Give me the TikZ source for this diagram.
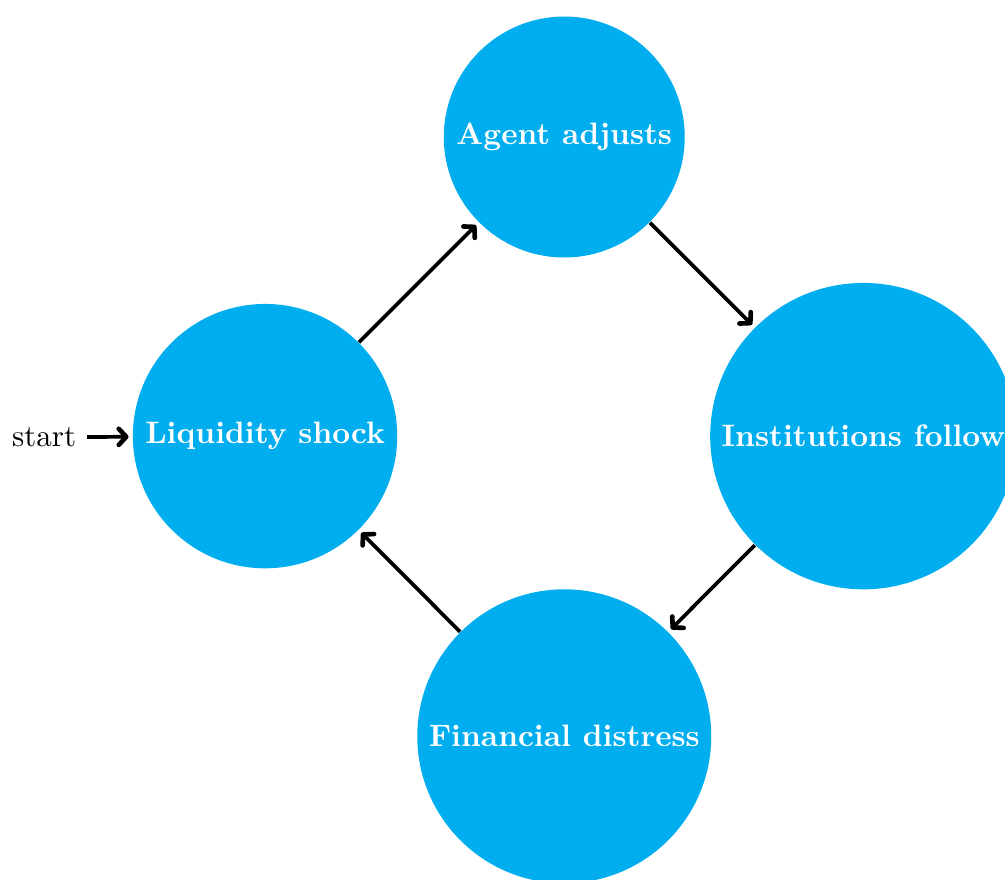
\documentclass[tikz,border=0pt]{standalone}
\usetikzlibrary{arrows.meta}
\definecolor{statecyan}{RGB}{0,173,239}
\tikzset{%
  state/.style={
    circle,
    fill=statecyan,
    text=white,
    font=\bfseries,
    inner sep=0.3333em
  },
  transition/.style={
    -{Straight Barb[length=2.4pt,width=5.2pt,line width=1.5pt,round]},
    line width=1.2pt,
    shorten >=1.2pt
  },
}

\begin{document}
\begin{tikzpicture}
\useasboundingbox (0,0) rectangle (11.39,-9.97);
\node[state] (liquidity) at (3.004,-4.943) {Liquidity shock};
\node[state] (agent) at (6.395,-1.553) {Agent adjusts};
\node[state] (institutions) at (9.785,-4.943) {Institutions follow};
\node[state] (distress) at (6.395,-8.345) {Financial distress};
\node (start) at (0.5,-4.955) {start};
\draw[transition] (start) -- (liquidity);
\draw[transition] (liquidity) -- (agent);
\draw[transition] (agent) -- (institutions);
\draw[transition] (institutions) -- (distress);
\draw[transition] (distress) -- (liquidity);
\end{tikzpicture}
\end{document}
